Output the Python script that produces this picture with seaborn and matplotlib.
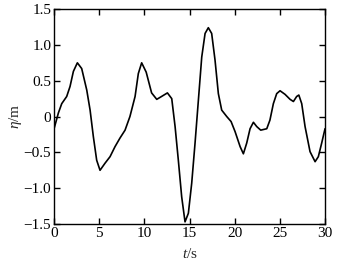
import numpy as np
import pandas as pd
import matplotlib
matplotlib.use("Agg")
import matplotlib.pyplot as plt
import seaborn as sns

# time (s) and wave elevation (m)
t = [0.0, 0.48, 0.85, 1.4, 1.77, 2.14, 2.58, 3.06, 3.62, 3.99,
     4.35, 4.72, 5.09, 5.65, 6.2, 6.75, 7.3, 7.86, 8.4, 8.97,
     9.33, 9.7, 10.2, 10.8, 11.37, 11.9, 12.55, 13.03, 13.4, 13.76,
     14.13, 14.5, 14.87, 15.24, 15.61, 15.98, 16.35, 16.72, 17.08, 17.45,
     17.82, 18.19, 18.56, 19.12, 19.6, 20.04, 20.6, 20.96, 21.33, 21.7,
     22.07, 22.44, 22.88, 23.55, 23.9, 24.28, 24.65, 25.02, 25.57, 26.13,
     26.5, 26.86, 27.1, 27.42, 27.79, 28.34, 28.9, 29.26, 29.63, 30.0]
eta = [-0.17, 0.05, 0.18, 0.28, 0.42, 0.63, 0.75, 0.67, 0.37, 0.09,
       -0.28, -0.61, -0.75, -0.65, -0.56, -0.42, -0.30, -0.19, 0.0, 0.28,
       0.60, 0.75, 0.62, 0.33, 0.24, 0.28, 0.33, 0.25, -0.14, -0.61,
       -1.12, -1.47, -1.35, -0.93, -0.37, 0.23, 0.83, 1.16, 1.24, 1.16,
       0.79, 0.32, 0.09, 0.0, -0.07, -0.21, -0.42, -0.52, -0.37, -0.17,
       -0.08, -0.14, -0.19, -0.17, -0.05, 0.18, 0.32, 0.36, 0.31, 0.24,
       0.21, 0.28, 0.30, 0.18, -0.14, -0.49, -0.63, -0.56, -0.37, -0.17]

xticks = [0, 5, 10, 15, 20, 25, 30]
yticks = [-1.5, -1.0, -0.5, 0, 0.5, 1.0, 1.5]
ytick_labels = ["\u22121.5", "\u22121.0", "\u22120.5", "0", "0.5", "1.0", "1.5"]

sns.set_style("ticks")
plt.rcParams["font.family"] = ["Liberation Serif", "DejaVu Serif"]
plt.rcParams["mathtext.fontset"] = "custom"
plt.rcParams["mathtext.rm"] = "Liberation Serif"
plt.rcParams["mathtext.it"] = "Liberation Serif:italic"

df = pd.DataFrame({"t": t, "eta": eta})

fig = plt.figure(figsize=(3.51, 2.67), dpi=100)
ax = fig.add_axes([0.154, 0.161, 0.772, 0.805])
sns.lineplot(data=df, x="t", y="eta", color="black", linewidth=1.2, ax=ax)

ax.set_xlim(0, 30)
ax.set_ylim(-1.5, 1.5)
ax.set_xticks(xticks)
ax.set_xticklabels([str(v) for v in xticks])
ax.set_yticks(yticks)
ax.set_yticklabels(ytick_labels)
ax.tick_params(direction="in", top=True, right=True, labelsize=11,
               length=4, width=1, pad=2, colors="black")
for s in ax.spines.values():
    s.set_visible(True)
    s.set_linewidth(1.0)
    s.set_color("black")

ax.set_xlabel(r"$t$/s", fontsize=11, labelpad=5)
ax.set_ylabel(r"$\eta$/m", fontsize=11, labelpad=0)

fig.savefig("out.png", dpi=100)
